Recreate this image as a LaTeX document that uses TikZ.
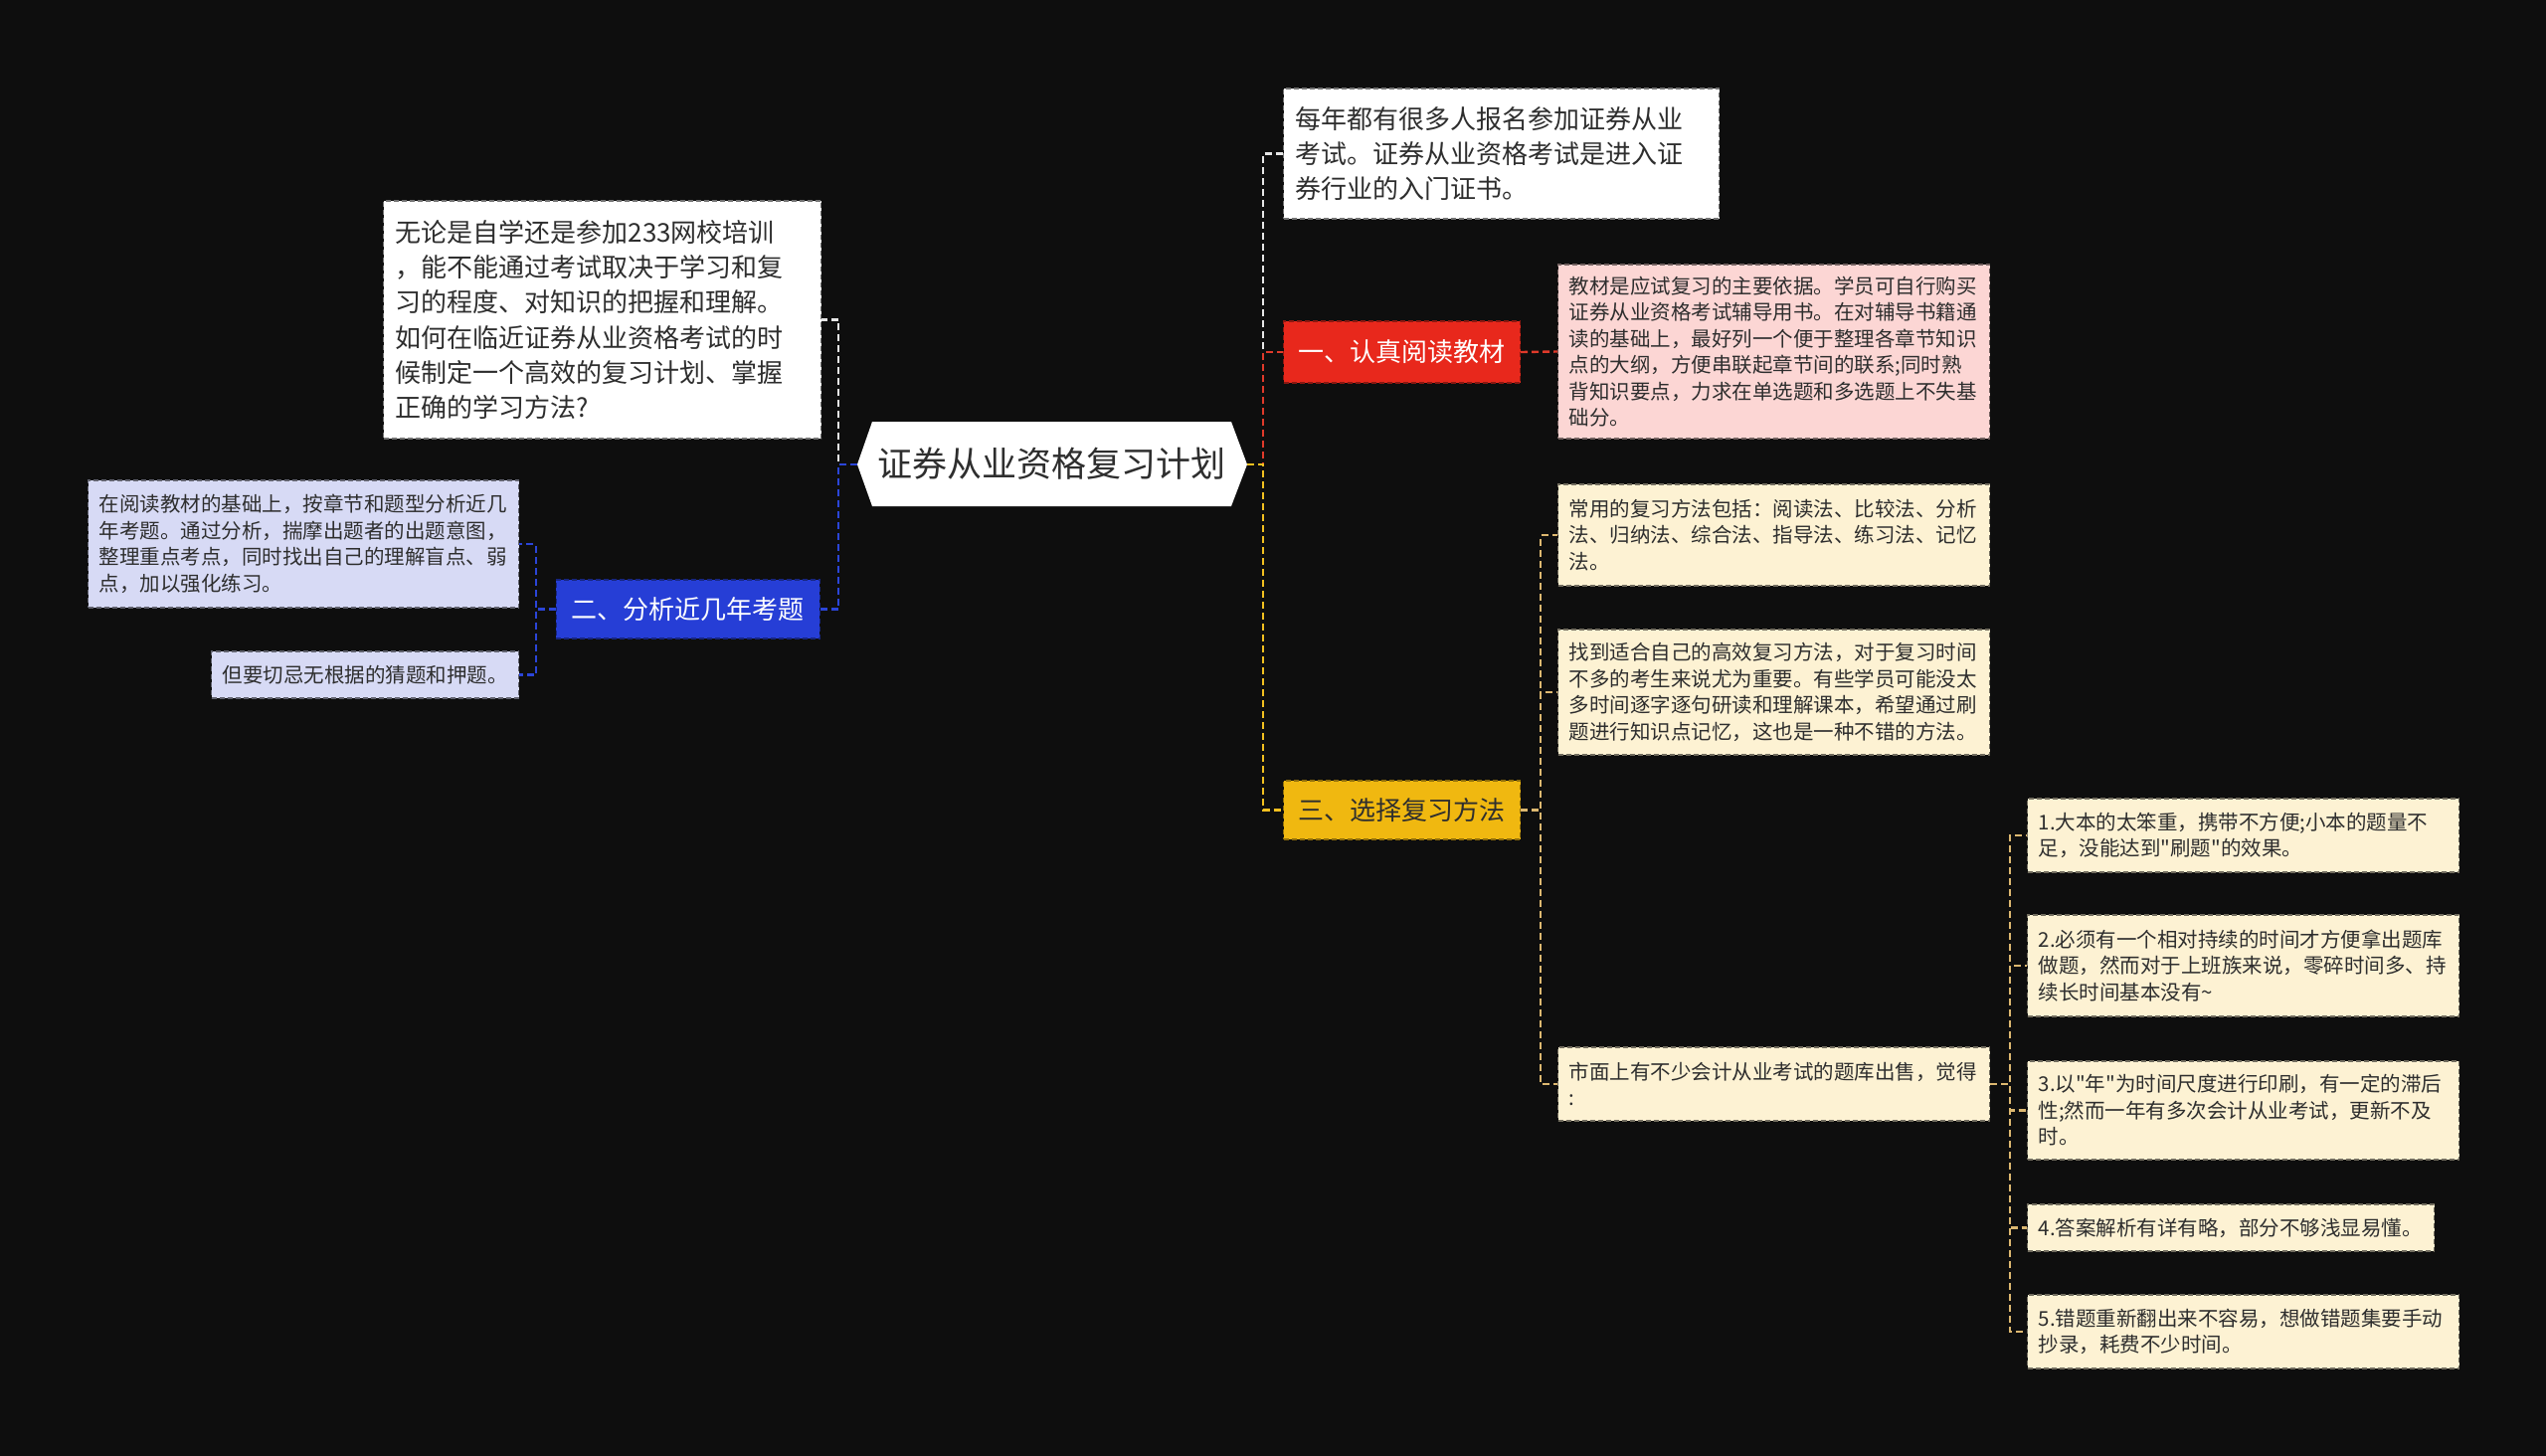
\documentclass[tikz,border=0pt]{standalone}
\usepackage{fontspec}
\setmainfont{Noto Sans CJK SC}[Ligatures=TeXOff]
\newcommand\fsSmall{\fontsize{20.5pt}{26.5pt}\selectfont}
\newcommand\fsBig{\fontsize{26pt}{35.3pt}\selectfont}
\newcommand\fsMid{\fontsize{26pt}{30pt}\selectfont}
\newcommand\fsRoot{\fontsize{35pt}{40pt}\selectfont}
\definecolor{bg}{HTML}{0E0E0E}
\definecolor{txt}{HTML}{2E2E2E}
\definecolor{lav}{HTML}{D7DAF5}
\definecolor{pinkbox}{HTML}{FCD6D4}
\definecolor{cream}{HTML}{FDF2D3}
\definecolor{rednode}{HTML}{E8281C}
\definecolor{bluenode}{HTML}{263ED6}
\definecolor{yelnode}{HTML}{F0B810}
\definecolor{cwhite}{HTML}{E6E6E6}
\definecolor{cblue}{HTML}{2B45D8}
\definecolor{cred}{HTML}{E03A2A}
\definecolor{cyel}{HTML}{F2C020}
\definecolor{ctan}{HTML}{DDB870}
\tikzset{
  bx/.style={rectangle, fill=#1, draw=#1!45!black, line width=1.2pt,
    dash pattern=on 5pt off 3pt, inner ysep=4pt, align=left, anchor=west, text=txt},
  sm/.style={bx=#1, font=\fsSmall, inner xsep=11pt, text width=412pt},
  big/.style={bx=#1, font=\fsBig, inner xsep=12pt, text width=416pt},
  topic/.style={rectangle, fill=#1, draw=#1!60!black, line width=1.2pt,
    dash pattern=on 5pt off 3pt, font=\fsMid, minimum width=238pt,
    minimum height=60pt, inner sep=0pt},
  conn/.style={line width=2.4pt, dash pattern=on 7pt off 4pt, draw=#1},
}
\begin{document}
\begin{tikzpicture}[x=1pt, y=-1pt]
\fill[bg] (0,0) rectangle (2560,1464);
\useasboundingbox (0,0) rectangle (2560,1464);

% root
\fill[white] (877,424) -- (1238,424) -- (1254,467) -- (1238,509) -- (877,509) -- (862,467) -- cycle;
\node[font=\fsRoot, text=txt, minimum width=361pt, minimum height=85pt, inner sep=0pt] (root) at (1057.5,466.5) {证券从业资格复习计划};
\coordinate (rootL) at (862,467);
\coordinate (rootR) at (1254,467);

% left side
\node[big=white, minimum height=239pt] (intro) at (385,321.5) {无论是自学还是参加233网校培训\\，能不能通过考试取决于学习和复\\习的程度、对知识的把握和理解。\\如何在临近证券从业资格考试的时\\候制定一个高效的复习计划、掌握\\正确的学习方法?};
\node[topic=bluenode, text=white, minimum width=265pt, minimum height=59pt, anchor=east] (blue) at (825,612.5) {二、分析近几年考题};
\node[sm=lav, text width=411pt, minimum height=128pt] (lav1) at (88,547) {在阅读教材的基础上，按章节和题型分析近几\\年考题。通过分析，揣摩出题者的出题意图，\\整理重点考点，同时找出自己的理解盲点、弱\\点，加以强化练习。};
\node[sm=lav, text width=287pt, minimum height=47pt] (lav2) at (212,678.5) {但要切忌无根据的猜题和押题。};

% right side
\node[big=white, text width=414pt, minimum height=131pt] (top) at (1290,154.5) {每年都有很多人报名参加证券从业\\考试。证券从业资格考试是进入证\\券行业的入门证书。};
\node[topic=rednode, text=white, minimum height=62pt, anchor=west] (red) at (1290,354) {一、认真阅读教材};
\node[sm=pinkbox, minimum height=175pt] (pink) at (1566,353.5) {教材是应试复习的主要依据。学员可自行购买\\证券从业资格考试辅导用书。在对辅导书籍通\\读的基础上，最好列一个便于整理各章节知识\\点的大纲，方便串联起章节间的联系;同时熟\\背知识要点，力求在单选题和多选题上不失基\\础分。};
\node[topic=yelnode, text=txt, minimum height=59pt, anchor=west] (yel) at (1290,814.5) {三、选择复习方法};
\node[sm=cream, minimum height=102pt] (mA) at (1566,538) {常用的复习方法包括：阅读法、比较法、分析\\法、归纳法、综合法、指导法、练习法、记忆\\法。};
\node[sm=cream, minimum height=126pt] (mB) at (1566,696) {找到适合自己的高效复习方法，对于复习时间\\不多的考生来说尤为重要。有些学员可能没太\\多时间逐字逐句研读和理解课本，希望通过刷\\题进行知识点记忆，这也是一种不错的方法。};
\node[sm=cream, minimum height=74pt] (mC) at (1566,1090) {市面上有不少会计从业考试的题库出售，觉得\\:};
\node[sm=cream, minimum height=74pt] (n1) at (2038,840) {1.大本的太笨重，携带不方便;小本的题量不\\足，没能达到"刷题"的效果。};
\node[sm=cream, minimum height=102pt] (n2) at (2038,971) {2.必须有一个相对持续的时间才方便拿出题库\\做题，然而对于上班族来说，零碎时间多、持\\续长时间基本没有\textasciitilde};
\node[sm=cream, minimum height=99pt] (n3) at (2038,1116.5) {3.以"年"为时间尺度进行印刷，有一定的滞后\\性;然而一年有多次会计从业考试，更新不及\\时。};
\node[sm=cream, text width=387pt, minimum height=47pt] (n4) at (2038,1234.5) {4.答案解析有详有略，部分不够浅显易懂。};
\node[sm=cream, minimum height=74pt] (n5) at (2038,1339) {5.错题重新翻出来不容易，想做错题集要手动\\抄录，耗费不少时间。};

% connectors left
\draw[conn=cwhite] (rootL) -- ++(-19,0) |- (intro.east);
\draw[conn=cblue] (rootL) -- ++(-19,0) |- (blue.east);
\draw[conn=cblue] (blue.west) -- ++(-20,0) |- (lav1.east);
\draw[conn=cblue] (blue.west) -- ++(-20,0) |- (lav2.east);

% connectors right
\draw[conn=cwhite] (rootR) -- ++(16,0) |- (top.west);
\draw[conn=cred] (rootR) -- ++(16,0) |- (red.west);
\draw[conn=cyel] (rootR) -- ++(16,0) |- (yel.west);
\draw[conn=cred] (red.east) -- (pink.west);
\draw[conn=ctan] (yel.east) -- ++(20,0) |- (mA.west);
\draw[conn=ctan] (yel.east) -- ++(20,0) |- (mB.west);
\draw[conn=ctan] (yel.east) -- ++(20,0) |- (mC.west);
\draw[conn=ctan] (mC.east) -- ++(20,0) |- (n1.west);
\draw[conn=ctan] (mC.east) -- ++(20,0) |- (n2.west);
\draw[conn=ctan] (mC.east) -- ++(20,0) |- (n3.west);
\draw[conn=ctan] (mC.east) -- ++(20,0) |- (n4.west);
\draw[conn=ctan] (mC.east) -- ++(20,0) |- (n5.west);
\end{tikzpicture}
\end{document}
